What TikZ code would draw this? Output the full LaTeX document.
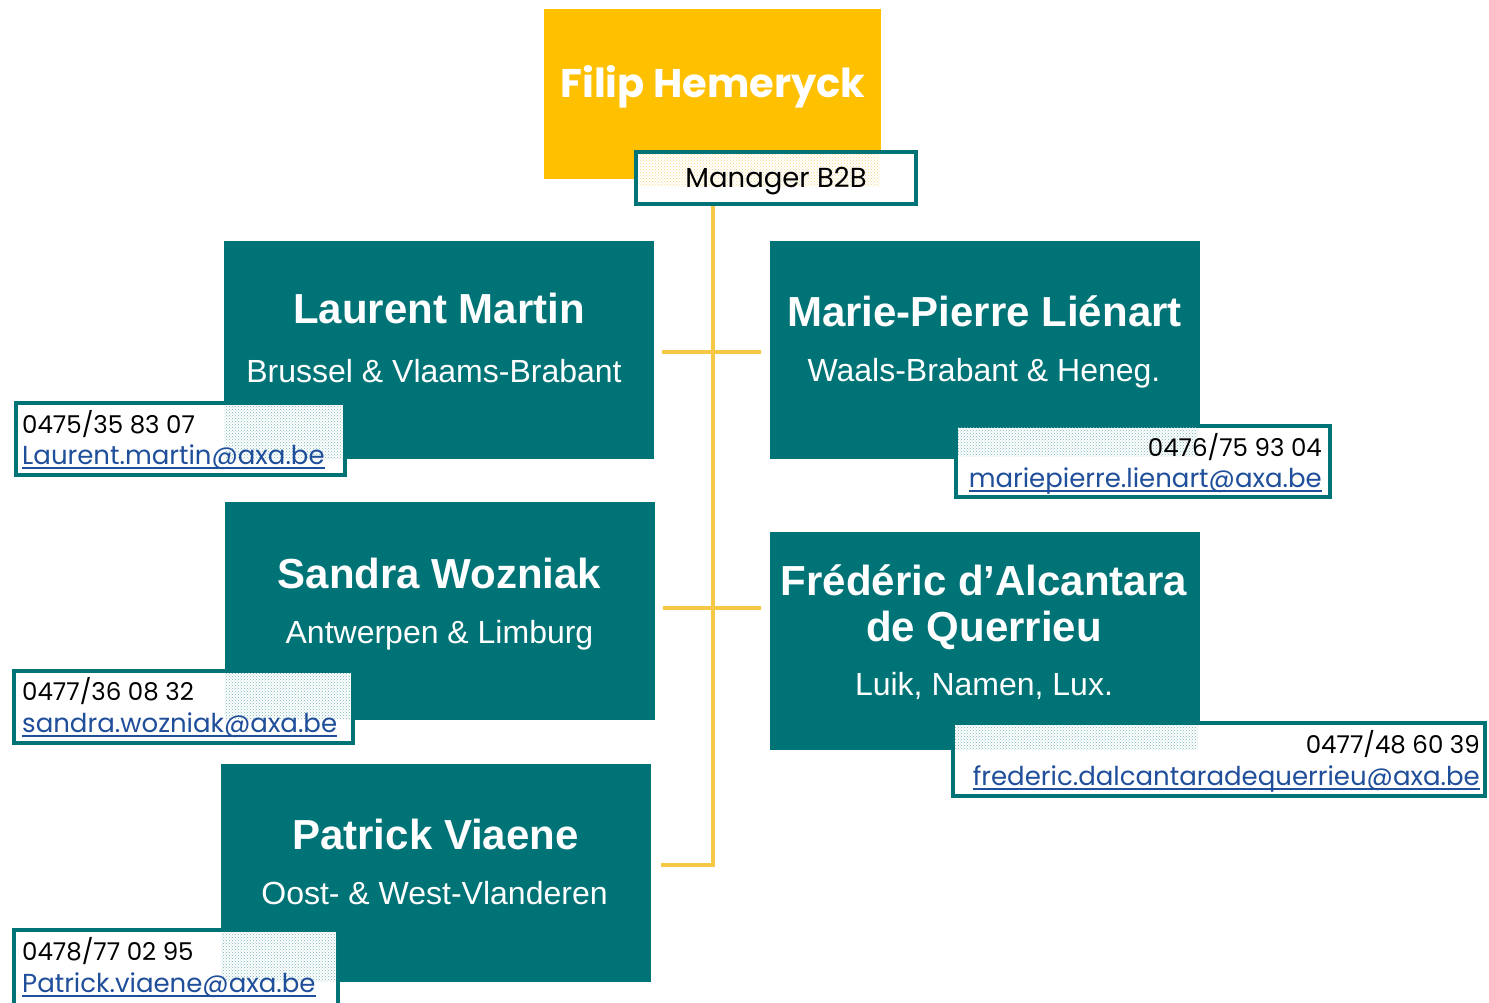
\documentclass[tikz,border=0pt]{standalone}
\usepackage{fontspec}
\setmainfont{Liberation Sans}
\newfontfamily\gothic{Poppins}
\usetikzlibrary{patterns}

\definecolor{axateal}{RGB}{0,115,118}
\definecolor{bossyellow}{RGB}{255,192,0}
\definecolor{linkyellow}{RGB}{246,200,70}
\definecolor{mailblue}{RGB}{31,78,154}
\definecolor{dotteal}{RGB}{120,180,182}
\definecolor{dotyellow}{RGB}{246,214,130}

\tikzset{
  namebox/.style={fill=axateal, minimum width=430, minimum height=218, inner sep=0},
  nametext/.style={text=white, font=\bfseries\fontsize{42}{46}\selectfont, inner sep=0, anchor=base},
  areatext/.style={text=white, font=\fontsize{32}{36}\selectfont, inner sep=0, anchor=base},
  contactbox/.style={draw=axateal, line width=4, fill=white, inner sep=0},
  phonetext/.style={font=\gothic\fontsize{24.5}{28}\selectfont, inner sep=0},
  mailtext/.style={font=\gothic\fontsize{26}{30}\selectfont, inner sep=0, text=mailblue},
  dotfill/.style={pattern=crosshatch dots, pattern color=dotteal},
  link/.style={draw=linkyellow, line width=4},
  mailline/.style={draw=mailblue, line width=2},
}

\begin{document}
\begin{tikzpicture}[x=1pt,y=-1pt]
    \useasboundingbox (0,0) rectangle (1489,1002);

    % Manager
    \node[fill=bossyellow, minimum width=337, minimum height=170, inner sep=0] (fh) at (712.5,94) {};
    \node[text=white, font=\gothic\bfseries\fontsize{40}{44}\selectfont, inner sep=0, anchor=base] (fhname) at (713,97) {Filip Hemeryck};
    \node[contactbox, minimum width=280, minimum height=52] (mgr) at (776,178) {};
    \fill[pattern=crosshatch dots, pattern color=dotyellow] (640,154) rectangle (880,186);
    \node[font=\gothic\fontsize{27.5}{30}\selectfont, inner sep=0, anchor=base] (mgrtext) at (776,187) {Manager B2B};

    % Verbindingen
    \path (439,349.5) node[namebox] (lm) {} (984.5,349.5) node[namebox] (mp) {}
          (439.5,610.5) node[namebox] (sw) {} (984.5,640.5) node[namebox] (fd) {}
          (435.5,872.5) node[namebox] (pv) {};
    \coordinate (b1l) at ([xshift=8,yshift=-2.5]lm.east);
    \coordinate (b1r) at ([xshift=-8,yshift=-2.5]mp.west);
    \coordinate (b2l) at ([xshift=8,yshift=2.5]sw.east);
    \coordinate (b2r) at (b2l -| b1r);
    \coordinate (b3l) at ([xshift=10,yshift=7.5]pv.east);
    \draw[link] (mgr.south -| fh.south) -- (b3l -| fh.south) -- (b3l);
    \draw[link] (b1l) -- (b1r);
    \draw[link] (b2l) -- (b2r);

    % Namen
    \node[nametext] (lmname) at (439,323) {Laurent Martin};
    \node[areatext] (lmarea) at (434,382) {Brussel \& Vlaams-Brabant};
    \node[nametext] (mpname) at (984.5,326) {Marie-Pierre Liénart};
    \node[areatext] (mparea) at (984,381) {Waals-Brabant \& Heneg.};
    \node[nametext] (swname) at (439.5,588) {Sandra Wozniak};
    \node[areatext] (swarea) at (439.5,643) {Antwerpen \& Limburg};
    \node[nametext] (fdname) at (984,595) {Frédéric d’Alcantara};
    \node[nametext] (fdname2) at (984,641) {de Querrieu};
    \node[areatext] (fdarea) at (984,695) {Luik, Namen, Lux.};
    \node[nametext] (pvname) at (435.5,849) {Patrick Viaene};
    \node[areatext] (pvarea) at (434.5,904) {Oost- \& West-Vlanderen};

    % Contact
    \node[contactbox, minimum width=329, minimum height=72] (lmc) at (180.5,439) {};
    \fill[dotfill] (224,405) rectangle (343,459);
    \node[phonetext, anchor=base west] (lmphone) at (22,433) {0475/35 83 07};
    \node[mailtext, anchor=base west] (lmmail) at (22,464) {Laurent.martin@axa.be};
    \draw[mailline] ([yshift=-4]lmmail.base west) -- ([yshift=-4]lmmail.base east);

    \node[contactbox, minimum width=374, minimum height=71] (mpc) at (1143,461.5) {};
    \fill[dotfill] (958,427) rectangle (1198,456);
    \node[phonetext, anchor=base east] (mpphone) at (1322,456) {0476/75 93 04};
    \node[mailtext, anchor=base east] (mpmail) at (1322,487) {mariepierre.lienart@axa.be};
    \draw[mailline] ([yshift=-4]mpmail.base west) -- ([yshift=-4]mpmail.base east);

    \node[contactbox, minimum width=339, minimum height=72] (swc) at (183.5,707) {};
    \fill[dotfill] (225,673) rectangle (350,718);
    \node[phonetext, anchor=base west] (swphone) at (22,700) {0477/36 08 32};
    \node[mailtext, anchor=base west] (swmail) at (22,732) {sandra.wozniak@axa.be};
    \draw[mailline] ([yshift=-4]swmail.base west) -- ([yshift=-4]swmail.base east);

    \node[contactbox, minimum width=532, minimum height=73] (fdc) at (1219,759.5) {};
    \fill[dotfill] (955,725) rectangle (1198,749);
    \node[phonetext, anchor=base east] (fdphone) at (1480,753) {0477/48 60 39};
    \node[mailtext, anchor=base east] (fdmail) at (1480,785) {frederic.dalcantaradequerrieu@axa.be};
    \draw[mailline] ([yshift=-4]fdmail.base west) -- ([yshift=-4]fdmail.base east);

    \node[contactbox, minimum width=324, minimum height=78] (pvc) at (176,969) {};
    \fill[dotfill] (221,932) rectangle (336,981);
    \node[phonetext, anchor=base west] (pvphone) at (22,960) {0478/77 02 95};
    \node[mailtext, anchor=base west] (pvmail) at (22,992) {Patrick.viaene@axa.be};
    \draw[mailline] ([yshift=-4]pvmail.base west) -- ([yshift=-4]pvmail.base east);
\end{tikzpicture}
\end{document}
